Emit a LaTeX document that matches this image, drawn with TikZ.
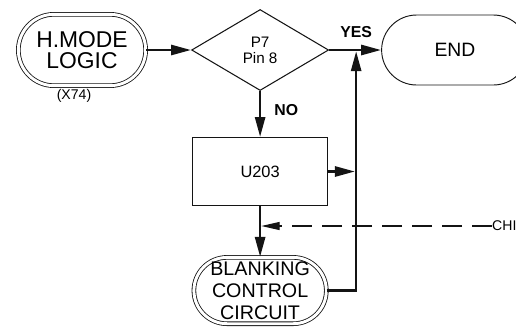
\documentclass[tikz,border=0pt]{standalone}
\usepackage{fontspec}
\setmainfont{Liberation Sans}
\usepackage{tikz}
\usetikzlibrary{
  positioning,
  arrows.meta,
  shapes.geometric,
  shapes.misc,
  calc
}
\definecolor{inkcolor}{RGB}{20,20,20}
\tikzset{
  termbox/.style={
    rounded rectangle, draw=inkcolor, line width=0.7pt,
    double=white, double distance=2.5pt, inner sep=0pt,
    align=center
  },
  endbox/.style={
    rounded rectangle, draw=inkcolor, line width=0.8pt,
    inner sep=0pt, align=center
  },
  procbox/.style={
    draw=inkcolor, line width=0.8pt,
    minimum width=4.05cm, minimum height=2.04cm,
    font=\fontsize{14}{16}\selectfont, align=center
  },
  decbox/.style={
    diamond, draw=inkcolor, line width=0.9pt, inner sep=0pt,
    minimum width=4.11cm, minimum height=2.43cm,
    font=\fontsize{13}{13.5}\selectfont, align=center
  },
  flowarrow/.style={
    -{Triangle[length=6mm,width=3mm]}, line width=2.3pt, draw=inkcolor
  },
  dasharrow/.style={
    -{Triangle[length=5.5mm,width=2.4mm]}, line width=0.9pt, draw=inkcolor,
    dash pattern=on 6mm off 3mm
  },
  lbl/.style={
    font=\fontsize{13.5}{14}\selectfont\bfseries, inner sep=0pt
  },
  smalltxt/.style={
    font=\fontsize{12}{13}\selectfont, inner sep=0pt
  }
}

\begin{document}
\begin{tikzpicture}[x=0.03cm, y=-0.03cm]
    \useasboundingbox (0,0) rectangle (516,326);

    % Row 1: start, test, end
    \node[termbox, minimum width=3.82cm, minimum height=2.14cm,
          font=\fontsize{19.5}{18}\selectfont] (hmode) at (82,50) {H.MODE\\LOGIC};
    \node[smalltxt, below=0.1cm of hmode, xshift=-0.24cm] (x74) {(X74)};
    \node[decbox, right=1.35cm of hmode] (dec) {P7\\Pin 8};
    \node[endbox, minimum width=4.4cm, minimum height=2.1cm,
          font=\fontsize{16.5}{18}\selectfont, right=1.56cm of dec] (end) {END};

    % Column: U203 and blanking circuit
    \node[procbox, below=1.38cm of dec] (u203) {U203};
    \node[termbox, minimum width=3.85cm, minimum height=1.99cm,
          font=\fontsize{16.8}{18.5}\selectfont, below=1.53cm of u203] (blank) {BLANKING\\CONTROL\\CIRCUIT};

    % Return line and labels
    \coordinate (ret) at ([xshift=0.81cm]dec.east);
    \node[lbl, above=0.36cm] (yes) at (ret) {YES};
    \node[lbl, anchor=west] (no) at ([xshift=0.42cm,yshift=-0.57cm]dec.south) {NO};
    \node[smalltxt, anchor=west] (chi) at (492,226) {CHI};

    % Arrows
    \draw[flowarrow] (hmode.east) -- (dec.west);
    \draw[flowarrow] (dec.east) -- (end.west);
    \draw[flowarrow] (dec.south) -- (u203.north);
    \draw[flowarrow] (u203.south) -- (blank.north);
    \draw[flowarrow, shorten >=1pt] (u203.east) -- (u203.east -| ret);
    \draw[flowarrow, shorten >=1pt] (blank.east) -| (ret);
    \draw[dasharrow, shorten >=1pt] (chi.west) -- (chi.west -| u203.south);

  \end{tikzpicture}
\end{document}
